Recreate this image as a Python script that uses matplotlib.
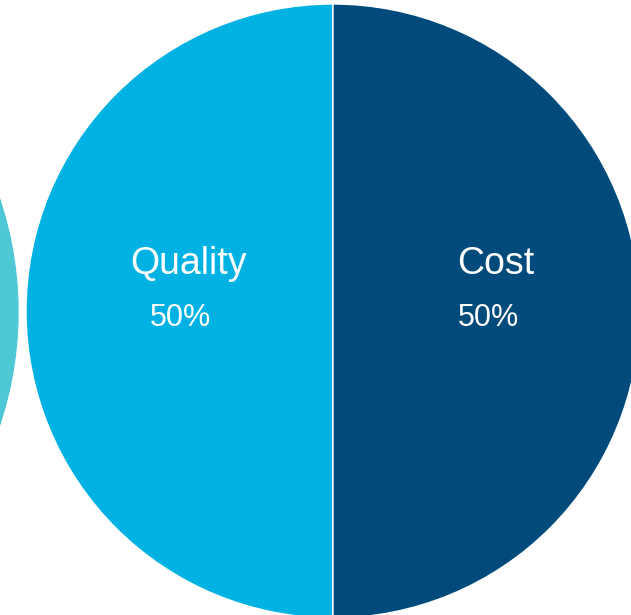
import matplotlib.pyplot as plt
from matplotlib.patches import Circle

# pie data
labels = ['Quality', 'Cost']
shares = [50, 50]
colors = ['#00B2E3', '#004B7B']
side_color = '#4DC8D4'

W, H = 631, 615
fig = plt.figure(figsize=(W / 100, H / 100), dpi=100)
ax = fig.add_axes([0, 0, 1, 1])

cx, cy, r = 333, 304, 307

# partial circle peeking in on the left
ax.add_patch(Circle((-339, 303), 357, color=side_color, zorder=0))

ax.pie(shares, colors=colors, startangle=90, counterclock=True,
       center=(cx, cy), radius=r, frame=True,
       wedgeprops=dict(edgecolor='white', linewidth=1))
ax.set_xlim(0, W)
ax.set_ylim(0, H)
ax.set_aspect('auto')
ax.axis('off')

# label x offsets from the pie centre, in pixels
name_dx = [-144, 163]
pct_dx = [-153, 155]
for lab, val, ndx, pdx in zip(labels, shares, name_dx, pct_dx):
    ax.text(cx + ndx, cy + 47, lab, color='white', fontsize=27,
            family='Liberation Sans', ha='center', va='center')
    ax.text(cx + pdx, cy - 7, f'{val}%', color='white', fontsize=22,
            family='Liberation Sans', ha='center', va='center')

fig.savefig('out.png', dpi=100)
